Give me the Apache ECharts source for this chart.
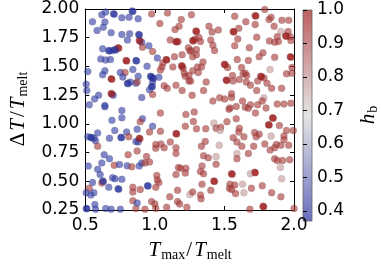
<!DOCTYPE html>
<html><head><meta charset="utf-8">
<script src="https://cdn.jsdelivr.net/npm/echarts@6/dist/echarts.min.js"></script>
<style>html,body{margin:0;padding:0;background:#fff}#c{width:381px;height:267px}</style>
</head><body><div id="c"></div>
<script>
// axis ranges / ticks
const xRange = [0.5, 2.0];
const yRange = [0.25, 2.0];
const hbRange = [0.37, 1.0];
const cbTicks = [0.4, 0.5, 0.6, 0.7, 0.8, 0.9, 1.0];

// T_max/T_melt
const xs = [
0.552,0.619,0.647,0.703,0.837,0.763,0.815,0.641,0.629,0.585,
0.686,0.763,0.819,0.803,0.625,0.669,0.696,0.714,0.736,0.612,
0.647,0.681,0.793,0.864,0.518,0.641,0.625,0.752,0.786,0.842,
0.686,0.770,0.803,0.823,0.864,0.507,0.511,0.596,0.567,0.529,
0.641,0.686,0.701,0.880,0.977,1.091,1.263,1.036,1.190,1.174,
1.145,0.884,0.888,0.906,0.911,0.957,1.111,1.152,1.168,1.241,
1.252,0.984,1.018,1.081,1.141,1.196,1.058,1.051,0.944,1.129,
1.192,1.203,1.212,1.219,1.245,1.040,0.880,0.969,0.984,1.029,
0.873,0.984,0.977,0.962,1.067,1.089,1.152,1.196,1.245,0.906,
0.984,1.574,1.654,1.295,1.389,1.411,1.456,1.563,1.603,1.596,
1.272,1.290,1.317,1.328,1.402,1.417,1.429,1.574,1.261,1.299,
1.299,1.272,1.592,1.346,1.306,1.335,1.272,1.312,1.500,1.523,
1.623,1.634,1.558,1.513,1.563,1.607,1.257,1.369,1.350,1.268,
1.551,1.551,1.466,1.502,1.417,1.540,1.585,1.630,1.790,1.721,
1.821,1.835,1.721,1.913,1.962,1.857,1.906,1.958,1.940,1.973,
1.978,1.880,1.861,1.888,1.824,1.732,1.679,1.777,1.750,1.861,
1.973,1.672,1.828,1.985,1.946,1.985,1.650,1.660,1.761,1.784,
1.739,1.806,1.657,1.687,1.839,1.911,1.732,1.784,1.772,1.687,
1.739,1.650,1.880,1.928,1.978,1.799,0.641,0.763,0.763,0.692,
0.712,0.797,0.589,0.540,0.518,0.562,0.674,0.756,0.813,0.864,
0.574,0.589,0.636,0.808,0.674,0.619,0.522,0.708,0.746,0.801,
0.835,0.589,0.607,0.696,0.714,0.763,0.625,0.619,0.552,0.669,
0.736,0.842,0.529,0.507,0.562,0.842,0.540,0.569,0.842,0.507,
0.574,0.647,0.686,0.752,0.864,1.040,0.911,0.895,0.984,0.873,
0.962,1.040,1.152,1.219,1.223,0.888,0.880,0.873,1.007,1.007,
1.044,1.067,1.111,1.152,1.152,0.940,0.962,0.906,0.888,0.929,
1.170,1.185,1.223,1.219,1.152,1.014,1.018,1.029,0.947,1.007,
0.895,1.163,1.252,1.107,0.977,1.000,1.163,1.178,0.873,1.085,
0.929,1.007,1.230,1.283,1.533,1.277,1.299,1.366,1.424,1.440,
1.473,1.469,1.518,1.585,1.607,1.603,1.640,1.563,1.590,1.625,
1.362,1.335,1.462,1.350,1.384,1.440,1.590,1.590,1.440,1.339,
1.328,1.350,1.551,1.339,1.424,1.540,1.536,1.574,1.630,1.272,
1.402,1.328,1.332,1.551,1.580,1.640,1.462,1.672,1.723,1.846,
1.817,1.895,1.946,1.995,1.717,1.750,1.728,1.835,1.928,1.928,
1.790,1.710,1.873,1.861,1.906,1.962,1.828,1.672,1.861,1.880,
1.918,1.969,1.902,1.717,1.687,1.911,1.772,1.694,1.839,1.906,
1.683,1.777,2.000
];
// ΔT/T_melt
const ys = [
1.890,1.950,1.973,1.959,1.983,1.923,1.928,1.887,1.841,1.813,
1.794,1.777,1.785,1.730,1.653,1.639,1.639,1.648,1.662,1.565,
1.557,1.560,1.552,1.552,1.455,1.463,1.428,1.447,1.447,1.474,
1.392,1.408,1.354,1.364,1.354,1.345,1.290,1.249,1.216,1.166,
1.160,1.265,1.249,1.915,1.956,1.965,1.950,1.874,1.909,1.849,
1.821,1.777,1.725,1.711,1.667,1.681,1.730,1.717,1.717,1.662,
1.634,1.629,1.573,1.560,1.585,1.601,1.529,1.496,1.502,1.496,
1.505,1.482,1.441,1.414,1.420,1.469,1.414,1.414,1.400,1.406,
1.364,1.364,1.326,1.298,1.331,1.309,1.337,1.290,1.373,1.230,
1.255,1.936,1.890,1.808,1.849,1.799,1.818,1.804,1.832,1.738,
1.725,1.738,1.752,1.717,1.730,1.684,1.639,1.681,1.639,1.648,
1.601,1.585,1.560,1.538,1.496,1.496,1.463,1.447,1.519,1.491,
1.491,1.436,1.420,1.381,1.373,1.387,1.373,1.364,1.290,1.249,
1.263,1.230,1.227,1.216,1.199,1.139,1.152,1.199,1.995,1.942,
1.909,1.928,1.865,1.901,1.901,1.849,1.804,1.804,1.766,1.758,
1.725,1.758,1.711,1.717,1.722,1.755,1.662,1.620,1.585,1.579,
1.585,1.552,1.474,1.491,1.436,1.441,1.441,1.420,1.414,1.400,
1.373,1.354,1.364,1.337,1.309,1.309,1.290,1.227,1.199,1.166,
1.166,1.144,1.172,1.172,1.180,1.139,1.150,1.117,1.053,1.032,
0.943,0.929,0.921,0.883,0.888,0.875,0.875,0.883,0.888,0.847,
0.853,0.806,0.731,0.731,0.696,0.660,0.632,0.640,0.646,0.635,
0.627,0.605,0.558,0.531,0.522,0.517,0.503,0.484,0.489,0.448,
0.434,0.448,0.440,0.401,0.401,0.407,0.380,0.297,0.330,0.264,
0.256,0.264,0.256,0.256,0.264,1.094,1.045,1.018,0.979,0.952,
0.929,0.935,0.916,0.979,1.081,0.875,0.842,0.764,0.820,0.787,
0.825,0.792,0.842,0.792,0.743,0.715,0.668,0.660,0.632,0.660,
0.619,0.613,0.613,0.572,0.558,0.550,0.512,0.489,0.462,0.448,
0.429,0.421,0.384,0.365,0.324,0.302,0.324,0.302,0.310,0.275,
0.256,0.264,0.275,1.103,1.127,1.020,0.957,0.957,1.007,0.962,
0.971,0.943,1.018,1.045,0.962,0.929,0.888,0.880,0.842,0.806,
0.847,0.806,0.814,0.723,0.704,0.715,0.743,0.696,0.649,0.632,
0.586,0.566,0.566,0.475,0.503,0.475,0.440,0.467,0.475,0.407,
0.421,0.380,0.347,0.429,0.393,0.401,0.247,1.136,1.094,1.053,
0.993,0.985,0.943,0.943,0.924,0.910,0.888,0.894,0.894,0.861,
0.825,0.806,0.820,0.792,0.814,0.814,0.772,0.743,0.696,0.682,
0.682,0.687,0.621,0.578,0.566,0.522,0.462,0.440,0.401,0.365,
0.256,0.283,0.264
];
// h_b
const hb = [
0.42,0.42,0.42,0.40,0.40,0.42,0.42,0.42,0.42,0.42,
0.42,0.42,0.42,0.42,0.42,0.40,0.42,0.40,0.98,0.42,
0.42,0.42,0.98,0.40,0.42,0.42,0.42,0.42,0.93,0.42,
0.98,0.42,0.40,0.42,0.42,0.42,0.42,0.42,0.42,0.42,
0.42,0.98,0.42,0.42,0.93,0.93,0.93,0.93,0.93,0.93,
0.93,0.40,0.98,0.42,0.93,0.42,0.93,0.98,0.93,0.93,
0.93,0.93,0.42,0.98,0.93,0.93,0.93,0.93,0.42,0.93,
0.98,0.93,0.93,0.93,0.93,0.93,0.42,0.40,0.40,0.42,
0.93,0.42,0.40,0.42,0.93,0.93,0.93,0.93,0.93,0.42,
0.93,0.93,0.93,0.98,0.93,0.93,0.93,0.98,0.93,0.93,
0.98,0.93,0.93,0.93,0.93,0.93,0.93,0.93,0.93,0.93,
0.93,0.93,0.93,0.93,0.93,0.93,0.93,0.93,0.98,0.93,
0.93,0.93,0.93,0.98,0.93,0.93,0.93,0.93,0.93,0.93,
0.93,0.93,0.93,0.93,0.93,0.93,0.93,0.93,0.93,0.98,
0.93,0.93,0.93,0.93,0.93,0.93,0.78,0.93,0.98,0.93,
0.93,0.93,0.93,0.93,0.93,0.93,0.93,0.93,0.93,0.93,
0.98,0.93,0.78,0.93,0.93,0.93,0.93,0.93,0.98,0.93,
0.93,0.93,0.93,0.93,0.93,0.93,0.93,0.78,0.93,0.93,
0.93,0.93,0.93,0.93,0.93,0.93,0.42,0.42,0.42,0.42,
0.42,0.42,0.42,0.40,0.42,0.42,0.42,0.40,0.93,0.42,
0.42,0.93,0.42,0.93,0.42,0.42,0.42,0.93,0.42,0.42,
0.93,0.42,0.42,0.42,0.42,0.42,0.40,0.93,0.42,0.42,
0.40,0.93,0.93,0.42,0.42,0.93,0.42,0.42,0.93,0.40,
0.42,0.42,0.42,0.42,0.93,0.93,0.42,0.93,0.42,0.42,
0.93,0.93,0.98,0.93,0.93,0.98,0.42,0.93,0.93,0.93,
0.93,0.93,0.93,0.93,0.93,0.93,0.93,0.42,0.42,0.93,
0.93,0.93,0.93,0.93,0.93,0.93,0.93,0.93,0.40,0.93,
0.93,0.93,0.78,0.93,0.93,0.93,0.93,0.93,0.42,0.93,
0.93,0.93,0.93,0.93,0.93,0.93,0.93,0.93,0.78,0.93,
0.93,0.78,0.93,0.93,0.93,0.93,0.93,0.93,0.93,0.93,
0.93,0.93,0.78,0.93,0.93,0.78,0.78,0.93,0.93,0.93,
0.93,0.93,0.98,0.93,0.98,0.93,0.93,0.93,0.78,0.93,
0.93,0.93,0.93,0.93,0.93,0.78,0.93,0.93,0.93,0.98,
0.98,0.93,0.93,0.93,0.93,0.93,0.93,0.78,0.93,0.93,
0.93,0.93,0.93,0.93,0.93,0.93,0.93,0.93,0.93,0.93,
0.93,0.93,0.78,0.98,0.78,0.78,0.93,0.93,0.93,0.93,
0.93,0.98,0.93
];
// second points overlapping the darkest markers
const overlapX = [0.741,0.798,0.691,0.691,0.893,1.157,1.086,1.197,1.300,1.568,1.277,1.505,1.518,1.726,1.945,1.978,1.766,1.157,0.893,1.556,1.429,1.851,1.822,1.722,1.782,
  0.708,0.842,0.674,0.719,0.869,0.808,0.889,0.974,0.989,0.982,0.545,0.761,0.630,0.741,0.512,0.952];
const overlapY = [1.658,1.548,1.388,1.261,1.721,1.713,1.556,1.501,1.804,1.800,1.721,1.515,1.377,1.938,1.762,1.581,1.410,0.912,0.871,0.562,0.499,1.049,0.989,0.574,0.279,
  1.955,1.979,1.635,1.644,1.548,1.350,1.773,1.410,1.396,1.322,0.879,0.879,0.499,0.430,0.260,0.458];
const overlapH = [0.98,0.98,0.98,0.98,0.98,0.98,0.98,0.98,0.98,0.98,0.98,0.98,0.98,0.98,0.98,0.98,0.98,0.98,0.98,0.98,0.98,0.98,0.98,0.98,0.98,
  0.40,0.40,0.40,0.40,0.40,0.40,0.40,0.40,0.40,0.40,0.40,0.40,0.40,0.40,0.40,0.40];

const pts = xs.map((x, i) => [x, ys[i], hb[i]])
  .concat(overlapX.map((x, i) => [x, overlapY[i], overlapH[i]]));

const tickFont = {fontFamily: 'DejaVu Sans', fontSize: 17, color: '#000'};
const mathRich = {
  i: {fontFamily: 'Liberation Serif', fontStyle: 'italic', fontSize: 21, lineHeight: 24, verticalAlign: 'middle', color: '#000', padding: [0, 1, 0, 1]},
  n: {fontFamily: 'Liberation Serif', fontSize: 21, lineHeight: 24, verticalAlign: 'middle', color: '#000', padding: [0, 1, 0, 1]},
  s: {fontFamily: 'Liberation Serif', fontSize: 14, lineHeight: 9, verticalAlign: 'bottom', color: '#000'}
};
const lineBlack = {show: true, lineStyle: {color: '#000', width: 1}};

const chart = echarts.init(document.getElementById('c'), null, {renderer: 'canvas'});
chart.setOption({
  animation: false,
  backgroundColor: '#fff',
  grid: [
    {left: 70, top: 9, width: 224, height: 212, containLabel: false},
    {left: 303, top: 10, width: 11, height: 211, show: true, borderColor: '#666', borderWidth: 0.8,
     backgroundColor: {type: 'linear', x: 0, y: 0, x2: 0, y2: 1, colorStops: [
       {offset: 0, color: '#bd6060'}, {offset: 0.5, color: '#e5e5e5'}, {offset: 1, color: '#676ebd'}]}}
  ],
  xAxis: [
    {gridIndex: 0, type: 'value', min: xRange[0], max: xRange[1], interval: 0.5, position: 'bottom',
     axisLine: lineBlack, axisTick: {inside: true, length: 4, lineStyle: {color: '#000'}},
     splitLine: {show: false},
     axisLabel: Object.assign({margin: 7, formatter: v => v.toFixed(1)}, tickFont),
     name: '{i|T}{s|max}{n|/}{i|T}{s|melt}', nameLocation: 'middle', nameGap: 28,
     nameTextStyle: {rich: mathRich}},
    {gridIndex: 0, type: 'value', min: xRange[0], max: xRange[1], interval: 0.5, position: 'top',
     axisLine: lineBlack, axisTick: {inside: true, length: 4, lineStyle: {color: '#000'}},
     splitLine: {show: false}, axisLabel: {show: false}},
    {gridIndex: 1, type: 'value', min: 0, max: 1, show: false}
  ],
  yAxis: [
    {gridIndex: 0, type: 'value', min: yRange[0], max: yRange[1], interval: 0.25, position: 'left',
     axisLine: lineBlack, axisTick: {inside: true, length: 4, lineStyle: {color: '#000'}},
     splitLine: {show: false},
     axisLabel: Object.assign({margin: 6, formatter: v => v.toFixed(2)}, tickFont),
     name: '{n|Δ}{i|T}{n|/}{i|T}{s|melt}', nameLocation: 'middle', nameGap: 54, nameRotate: 90,
     nameTextStyle: {rich: mathRich}},
    {gridIndex: 0, type: 'value', min: yRange[0], max: yRange[1], interval: 0.25, position: 'right',
     axisLine: lineBlack, axisTick: {inside: true, length: 4, lineStyle: {color: '#000'}},
     splitLine: {show: false}, axisLabel: {show: false}},
    {gridIndex: 1, type: 'value', min: hbRange[0], max: hbRange[1], position: 'right',
     axisLine: {show: false}, splitLine: {show: false},
     axisTick: {show: true, inside: false, length: 4, customValues: cbTicks, lineStyle: {color: '#000'}},
     axisLabel: Object.assign({show: true, margin: 5, customValues: cbTicks, formatter: v => v.toFixed(1)}, tickFont),
     name: '{i|h}{s|b}', nameLocation: 'middle', nameGap: 44, nameRotate: 90,
     nameTextStyle: {rich: mathRich}}
  ],
  visualMap: [{
    show: false, type: 'continuous', seriesIndex: 0, dimension: 2,
    min: hbRange[0], max: hbRange[1],
    inRange: {color: ['#15209a', '#d8d8d8', '#9a0a0a']}
  }],
  series: [{
    type: 'scatter', xAxisIndex: 0, yAxisIndex: 0,
    symbolSize: 7,
    itemStyle: {opacity: 0.62, borderColor: 'rgba(60,60,60,0.3)', borderWidth: 0.6},
    data: pts
  }]
});
</script>
</body></html>
